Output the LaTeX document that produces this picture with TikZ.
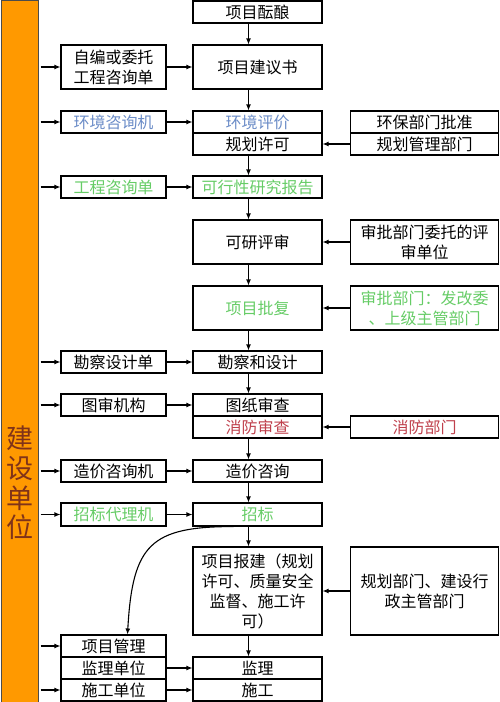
\documentclass[tikz,border=0pt]{standalone}
\usepackage{fontspec}
\newfontfamily\cjk{Noto Sans CJK SC}
\usetikzlibrary{arrows.meta}

\begin{document}
\begin{tikzpicture}[x=1pt,y=-1pt,
    box/.style={draw, line width=1.1pt, inner sep=0pt, minimum height=22pt, align=center,
      font=\cjk\fontsize{16}{20}\selectfont},
    lbox/.style={box, minimum width=105pt},
    cbox/.style={box, minimum width=129pt},
    rbox/.style={box, minimum width=148pt},
    flow/.style={-{Latex[length=6pt,width=5pt]}, line width=1.1pt}]
          \definecolor{barorange}{rgb}{1,0.6,0}
          \definecolor{barbrown}{rgb}{0.5,0.2,0.1}
          \definecolor{envblue}{rgb}{0.42,0.55,0.78}
          \definecolor{okgreen}{rgb}{0.4,0.8,0.4}
          \definecolor{firered}{rgb}{0.75,0.25,0.3}
          \useasboundingbox (0,0) rectangle (500,702);
          % left bar
          \node[draw=black!70, fill=barorange, line width=1pt, minimum width=37pt, minimum height=702pt, inner sep=0pt] (bar) at (19.5,351) {};
          \node[text=barbrown, font=\cjk\fontsize{27}{29.7}\selectfont, align=center] (barlabel) at (20,483) {建\\设\\单\\位};
          % middle column
          \node[cbox] (brew) at (257.5,12) {项目酝酿};
          \node[cbox, minimum height=44pt] (proposal) at (257.5,67) {项目建议书};
          \node[cbox, text=envblue] (enveval) at (257.5,122) {环境评价};
          \node[cbox] (planperm) at (257.5,144) {规划许可};
          \node[cbox, text=okgreen] (feas) at (257.5,187) {可行性研究报告};
          \node[cbox, minimum height=44pt] (review) at (257.5,242) {可研评审};
          \node[cbox, minimum height=44pt, text=okgreen] (approval) at (257.5,308) {项目批复};
          \node[cbox] (survey) at (257.5,362) {勘察和设计};
          \node[cbox] (drawrev) at (257.5,405) {图纸审查};
          \node[cbox, text=firered] (fire) at (257.5,427) {消防审查};
          \node[cbox] (cost) at (257.5,471) {造价咨询};
          \node[cbox, minimum height=23pt, text=okgreen] (bid) at (257.5,514.5) {招标};
          \node[cbox, minimum height=88pt] (filing) at (257.5,591) {项目报建（规划\\许可、质量安全\\监督、施工许\\可）};
          \node[cbox] (sup) at (257.5,668) {监理};
          \node[cbox] (con) at (257.5,690) {施工};
          % left column
          \node[lbox, minimum height=44pt] (autho) at (113.5,67) {自编或委托\\工程咨询单};
          \node[lbox, text=envblue] (envconsult) at (113.5,122) {环境咨询机};
          \node[lbox, text=okgreen] (engform) at (113.5,187) {工程咨询单};
          \node[lbox] (surveyform) at (113.5,362) {勘察设计单};
          \node[lbox] (draworg) at (113.5,405) {图审机构};
          \node[lbox] (costorg) at (113.5,471) {造价咨询机};
          \node[lbox, minimum height=23pt, text=okgreen] (bidorg) at (113.5,514.5) {招标代理机};
          \node[lbox] (projmgmt) at (113.5,646) {项目管理};
          \node[lbox] (supunit) at (113.5,668) {监理单位};
          \node[lbox] (conunit) at (113.5,690) {施工单位};
          % right column
          \node[rbox] (envapprove) at (424.5,122) {环保部门批准};
          \node[rbox] (planmgmt) at (424.5,144) {规划管理部门};
          \node[rbox, minimum height=44pt] (reviewunit) at (424.5,242) {审批部门委托的评\\审单位};
          \node[rbox, minimum height=44pt, text=okgreen] (approvaldept) at (424.5,308) {审批部门：发改委\\、上级主管部门};
          \node[rbox, text=firered] (firedept) at (424.5,427) {消防部门};
          \node[rbox, minimum height=88pt] (filingdept) at (424.5,591) {规划部门、建设行\\政主管部门};
          % arrows
          \foreach \n in {autho,envconsult,engform,surveyform,draworg,costorg,bidorg,projmgmt,conunit}
            \draw[flow] ([xshift=2pt]bar.east |- \n.west) -- (\n.west);
          \foreach \a/\b in {autho/proposal,envconsult/enveval,engform/feas,surveyform/survey,draworg/drawrev,costorg/cost,bidorg/bid,supunit/sup,conunit/con,planmgmt/planperm,reviewunit/review,approvaldept/approval,firedept/fire,filingdept/filing}
            \draw[flow] (\a) -- (\b);
          \foreach \a/\b in {brew/proposal,proposal/enveval,planperm/feas,feas/review,review/approval,approval/survey,survey/drawrev,fire/cost,cost/bid,bid/filing,filing/sup}
            \draw[flow] ([xshift=-9pt]\a.south) -- ([xshift=-9pt]\b.north);
          \draw[flow] ([xshift=-24pt]bid.south) .. controls +(-83,0) and +(5,-90) .. ([xshift=14pt]projmgmt.north);
    \end{tikzpicture}
\end{document}
